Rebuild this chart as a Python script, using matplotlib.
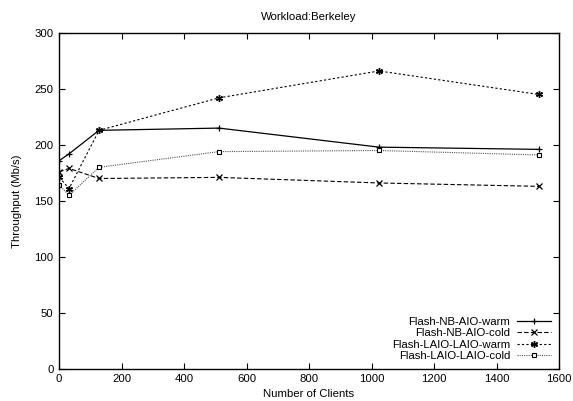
import matplotlib.pyplot as plt

# Throughput vs number of clients, Berkeley workload
clients = [1, 32, 128, 512, 1024, 1536]
nb_aio_warm = [186, 192, 213, 215, 198, 196]
nb_aio_cold = [176, 179, 170, 171, 166, 163]
laio_warm = [171, 161, 213, 242, 266, 245]
laio_cold = [164, 155, 180, 194, 195, 191]

plt.rcParams['font.family'] = 'Liberation Sans'
plt.rcParams['font.size'] = 8.2

fig = plt.figure(figsize=(5.73, 4.01), dpi=100)
ax = fig.add_axes([0.103, 0.080, 0.8726, 0.838])

ax.plot(clients, nb_aio_warm, color='black', linestyle='-', linewidth=0.9,
        marker='+', markersize=5, markeredgewidth=0.9, label='Flash-NB-AIO-warm')
ax.plot(clients, nb_aio_cold, color='black', linestyle=(0, (4, 2)), linewidth=0.8,
        marker='x', markersize=4, markeredgewidth=0.9, label='Flash-NB-AIO-cold')
ax.plot(clients, laio_warm, color='black', linestyle=(0, (2, 2)), linewidth=0.8,
        marker=(6, 2, 0), markersize=5, markeredgewidth=1.0, label='Flash-LAIO-LAIO-warm')
ax.plot(clients, laio_cold, color='#555555', linestyle=(0, (1, 1)), linewidth=0.8,
        marker='s', markersize=3.5, markerfacecolor='white', markeredgecolor='black',
        markeredgewidth=0.8, label='Flash-LAIO-LAIO-cold')

ax.set_xlim(0, 1600)
ax.set_ylim(0, 300)
ax.set_xticks(range(0, 1601, 200))
ax.set_yticks(range(0, 301, 50))
ax.tick_params(direction='in', top=True, right=True, length=4, width=0.8, pad=4)
for s in ax.spines.values():
    s.set_linewidth(1.0)

ax.set_title('Workload:Berkeley', fontsize=8.2, pad=9)
ax.set_xlabel('Number of Clients', labelpad=3)
ax.set_ylabel('Throughput (Mb/s)', labelpad=9)

ax.legend(loc='lower right', frameon=False, markerfirst=False, handlelength=3.0,
          numpoints=1, labelspacing=0.12, borderaxespad=0.3, handletextpad=0.6,
          fontsize=8.2)

fig.savefig('out.png', dpi=100)
